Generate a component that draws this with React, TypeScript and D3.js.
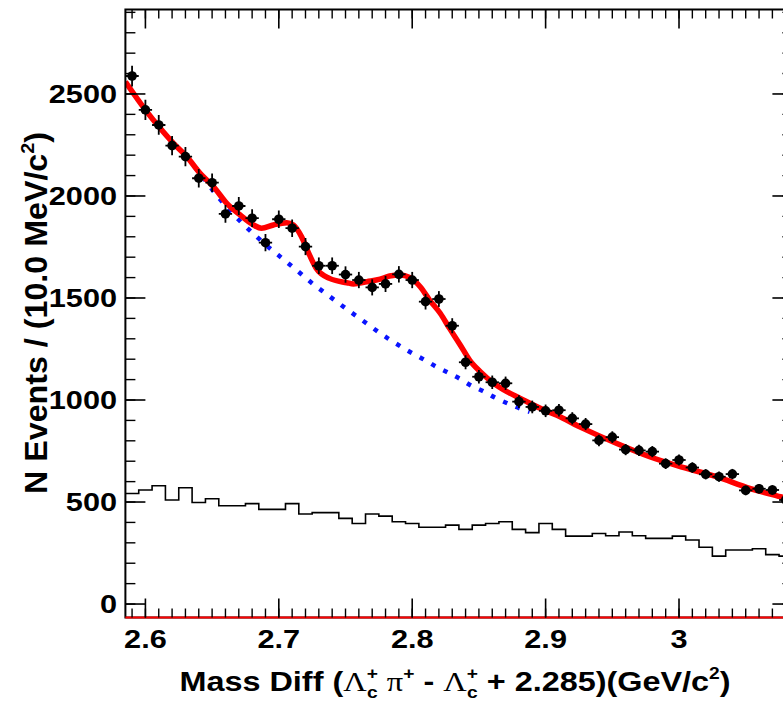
import React from "react";
import * as d3 from "d3";

// ---- data ----
const massBins = [
  2.59, 2.6, 2.61, 2.62, 2.63, 2.64, 2.65, 2.66, 2.67, 2.68,
  2.69, 2.7, 2.71, 2.72, 2.73, 2.74, 2.75, 2.76, 2.77, 2.78,
  2.79, 2.8, 2.81, 2.82, 2.83, 2.84, 2.85, 2.86, 2.87, 2.88,
  2.89, 2.9, 2.91, 2.92, 2.93, 2.94, 2.95, 2.96, 2.97, 2.98,
  2.99, 3.0, 3.01, 3.02, 3.03, 3.04, 3.05, 3.06, 3.07, 3.08,
];
const dataCounts = [
  2588, 2422, 2348, 2247, 2193, 2087, 2065, 1912, 1951, 1891,
  1771, 1886, 1842, 1752, 1658, 1658, 1615, 1588, 1552, 1569,
  1616, 1588, 1482, 1495, 1364, 1185, 1114, 1087, 1082, 992,
  966, 947, 950, 910, 882, 802, 818, 757, 753, 747,
  688, 706, 669, 636, 624, 637, 557, 565, 559, 510,
];
const sidebandHist = [
  542, 559, 580, 510, 570, 498, 516, 482, 482, 492,
  464, 464, 492, 441, 448, 448, 420, 395, 441, 431,
  403, 395, 376, 376, 387, 366, 387, 395, 403, 366,
  350, 395, 366, 333, 333, 346, 335, 353, 335, 322,
  322, 333, 314, 278, 235, 265, 265, 271, 242, 235,
];
const fitMass = [
  2.585, 2.6, 2.61, 2.621, 2.631, 2.641, 2.651, 2.661, 2.671, 2.681,
  2.687, 2.696, 2.706, 2.711, 2.717, 2.723, 2.728, 2.738, 2.751, 2.756,
  2.766, 2.776, 2.783, 2.791, 2.798, 2.806, 2.813, 2.821, 2.828, 2.836,
  2.843, 2.851, 2.861, 2.871, 2.881, 2.896, 2.908, 2.928, 2.953, 2.978,
  3.003, 3.028, 3.053, 3.076, 3.085,
];
const fitTotal = [
  2560, 2422, 2340, 2258, 2193, 2111, 2046, 1964, 1907, 1858,
  1842, 1858, 1869, 1858, 1801, 1711, 1646, 1596, 1575, 1569,
  1580, 1592, 1608, 1613, 1601, 1555, 1490, 1425, 1351, 1270,
  1196, 1139, 1082, 1041, 1008, 959, 926, 861, 788, 722,
  670, 624, 567, 526, 510,
];
const bkgMass = [
  2.63, 2.641, 2.652, 2.661, 2.672, 2.683, 2.693, 2.703, 2.714, 2.726,
  2.736, 2.745, 2.751, 2.761, 2.768, 2.776, 2.783, 2.792, 2.801, 2.81,
  2.818, 2.826, 2.836, 2.843, 2.853, 2.862, 2.872, 2.881, 2.888,
];
const bkgFit = [
  2193, 2111, 2015, 1945, 1870, 1803, 1745, 1692, 1633, 1567,
  1518, 1474, 1445, 1398, 1365, 1327, 1297, 1260, 1226, 1194,
  1163, 1137, 1103, 1075, 1044, 1012, 982, 958, 942,
];
const xTicks = [2.6, 2.7, 2.8, 2.9, 3.0];
const xTickLabels = ["2.6", "2.7", "2.8", "2.9", "3"];
const yTicks = [0, 500, 1000, 1500, 2000, 2500];
const yTickLabels = ["0", "500", "1000", "1500", "2000", "2500"];
const xDomain: [number, number] = [2.585, 3.085];
const yDomain: [number, number] = [-66, 2914];
const binWidth = 0.01;

// ---- layout ----
const W = 783;
const H = 701;
const L = 125.4;
const R = 792.4;
const T = 9.5;
const B = 617.5;
const FONT = "'Liberation Sans', Arial, Helvetica, sans-serif";
const GREEK = "'Liberation Serif', 'DejaVu Serif', serif";

export default function App() {
  const x = d3.scaleLinear().domain(xDomain).range([L, R]);
  const y = d3.scaleLinear().domain(yDomain).range([B, T]);

  const xMinor = d3.range(Math.round((xDomain[1] - xDomain[0]) / 0.01) + 1)
    .map((i) => xDomain[0] + 0.005 + i * 0.01)
    .filter((v) => v > xDomain[0] && v < xDomain[1]);
  const yMinor = d3.range(0, 2901, 100);

  // histogram step path
  const histPts: [number, number][] = [];
  massBins.forEach((m, i) => {
    histPts.push([m - binWidth / 2, sidebandHist[i]]);
    histPts.push([m + binWidth / 2, sidebandHist[i]]);
  });
  const histLine = d3
    .line<[number, number]>()
    .x((d) => x(d[0]))
    .y((d) => y(d[1]));

  const fitLine = d3
    .line<number>()
    .x((_, i) => x(fitMass[i]))
    .y((d) => y(d))
    .curve(d3.curveMonotoneX);
  const bkgLine = d3
    .line<number>()
    .x((_, i) => x(bkgMass[i]))
    .y((d) => y(d))
    .curve(d3.curveMonotoneX);

  return (
    <svg
      width={W}
      height={H}
      style={{ position: "absolute", left: 0, top: 0, background: "#fff" }}
    >
      <rect x={0} y={0} width={W} height={H} fill="#fff" />
      <defs>
        <clipPath id="plotclip">
          <rect x={L} y={T} width={R - L} height={B - T} />
        </clipPath>
      </defs>

      <g clipPath="url(#plotclip)">
        <path d={histLine(histPts) || ""} fill="none" stroke="#000" strokeWidth={1.6} />
        <path
          d={bkgLine(bkgFit) || ""}
          fill="none"
          stroke="#0a14ff"
          strokeWidth={4.5}
          strokeDasharray="4.5 9"
        />
        <path d={fitLine(fitTotal) || ""} fill="none" stroke="#ff0000" strokeWidth={5.5} strokeLinejoin="round" />
        {massBins.map((m, i) => {
          const v = dataCounts[i];
          const e = Math.sqrt(v);
          return (
            <g key={i}>
              <line x1={x(m)} x2={x(m)} y1={y(v - e)} y2={y(v + e)} stroke="#000" strokeWidth={1.8} />
              <line
                x1={x(m - binWidth / 2)}
                x2={x(m + binWidth / 2)}
                y1={y(v)}
                y2={y(v)}
                stroke="#000"
                strokeWidth={1.8}
              />
              <circle cx={x(m)} cy={y(v)} r={4.8} fill="#000" />
            </g>
          );
        })}
      </g>

      {/* frame */}
      <rect x={L} y={T} width={R - L} height={B - T} fill="none" stroke="#000" strokeWidth={2} />
      <line x1={L} x2={R} y1={B} y2={B} stroke="#ff0000" strokeWidth={2} />

      {/* x ticks bottom/top */}
      {xTicks.map((t) => (
        <g key={"xt" + t}>
          <line x1={x(t)} x2={x(t)} y1={B} y2={B - 19} stroke="#000" strokeWidth={1.6} />
          <line x1={x(t)} x2={x(t)} y1={T} y2={T + 19} stroke="#000" strokeWidth={1.6} />
        </g>
      ))}
      {xMinor.map((t, i) => (
        <g key={"xm" + i}>
          <line x1={x(t)} x2={x(t)} y1={B} y2={B - 9} stroke="#000" strokeWidth={1.4} />
          <line x1={x(t)} x2={x(t)} y1={T} y2={T + 9} stroke="#000" strokeWidth={1.4} />
        </g>
      ))}
      {/* y ticks left/right */}
      {yTicks.map((t) => (
        <g key={"yt" + t}>
          <line x1={L} x2={L + 20} y1={y(t)} y2={y(t)} stroke="#000" strokeWidth={1.6} />
          <line x1={R} x2={R - 20} y1={y(t)} y2={y(t)} stroke="#000" strokeWidth={1.6} />
        </g>
      ))}
      {yMinor.map((t) => (
        <g key={"ym" + t}>
          <line x1={L} x2={L + 10} y1={y(t)} y2={y(t)} stroke="#000" strokeWidth={1.4} />
          <line x1={R} x2={R - 10} y1={y(t)} y2={y(t)} stroke="#000" strokeWidth={1.4} />
        </g>
      ))}

      {/* tick labels */}
      {xTicks.map((t, i) => (
        <text
          key={"xl" + t}
          transform={`translate(${x(t)},${648}) scale(1.18,1)`}
          textAnchor="middle"
          fontFamily={FONT}
          fontWeight="bold"
          fontSize={26}
          fill="#000"
        >
          {xTickLabels[i]}
        </text>
      ))}
      {yTicks.map((t, i) => (
        <text
          key={"yl" + t}
          transform={`translate(${117},${y(t) + 9.3}) scale(1.18,1)`}
          textAnchor="end"
          fontFamily={FONT}
          fontWeight="bold"
          fontSize={26}
          fill="#000"
        >
          {yTickLabels[i]}
        </text>
      ))}

      {/* x title */}
      <text
        transform={`translate(455,691) scale(1.2,1)`}
        textAnchor="middle"
        fontFamily={FONT}
        fontWeight="bold"
        fontSize={27}
        fill="#000"
      >
        Mass Diff (
        <tspan fontFamily={GREEK} fontWeight="normal">Λ</tspan>
        <tspan fontSize={16} dy={-12}>+</tspan>
        <tspan fontSize={16} dx={-9} dy={19}>c</tspan>
        <tspan dy={-7}> </tspan>
        <tspan fontFamily={GREEK} fontWeight="normal">π</tspan>
        <tspan fontSize={16} dy={-12}>+</tspan>
        <tspan dy={12}> - </tspan>
        <tspan fontFamily={GREEK} fontWeight="normal">Λ</tspan>
        <tspan fontSize={16} dy={-12}>+</tspan>
        <tspan fontSize={16} dx={-9} dy={19}>c</tspan>
        <tspan dy={-7}> + 2.285)(GeV/c</tspan>
        <tspan fontSize={16} dy={-12}>2</tspan>
        <tspan dy={12}>)</tspan>
      </text>

      {/* y title */}
      <text
        transform={`translate(47,313) rotate(-90) scale(1.04,1)`}
        textAnchor="middle"
        fontFamily={FONT}
        fontWeight="bold"
        fontSize={31}
        fill="#000"
      >
        N Events / (10.0 MeV/c
        <tspan fontSize={19} dy={-13}>2</tspan>
        <tspan dy={13}>)</tspan>
      </text>
    </svg>
  );
}
